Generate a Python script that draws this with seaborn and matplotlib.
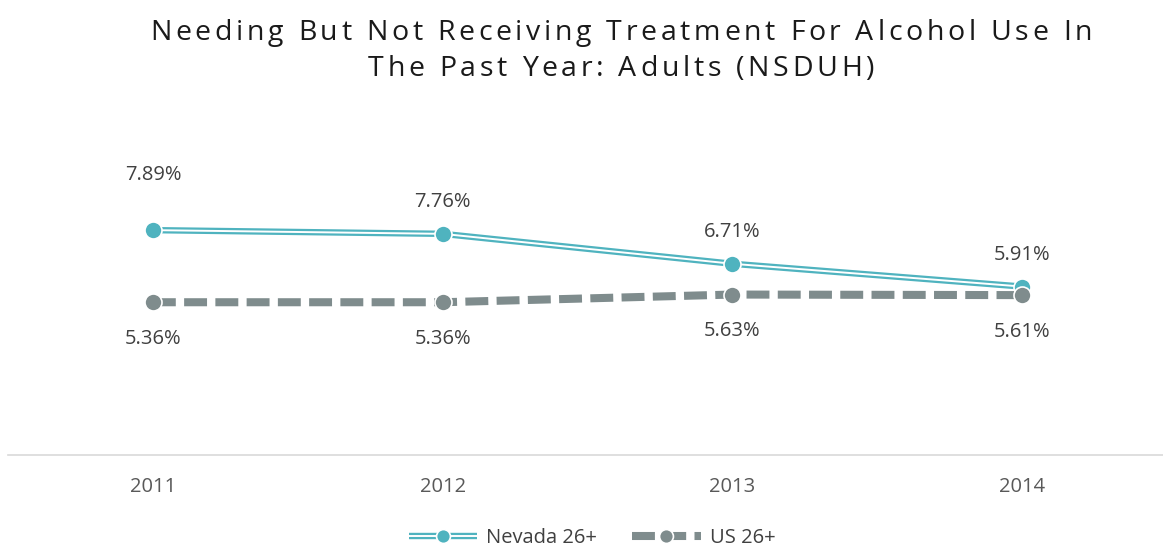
import pandas as pd
import seaborn as sns
import matplotlib.pyplot as plt
from matplotlib.lines import Line2D

years = [2011, 2012, 2013, 2014]
nevada = [7.89, 7.76, 6.71, 5.91]
us = [5.36, 5.36, 5.63, 5.61]
series_names = ["Nevada 26+", "US 26+"]
title_lines = ["Needing But Not Receiving Treatment For Alcohol Use In",
               "The Past Year: Adults (NSDUH)"]

teal = "#4fb3bf"
grey = "#7f8c8d"
txt = "#404040"

sns.set_style("white")
plt.rcParams["font.family"] = ["Open Sans", "DejaVu Sans"]
plt.rcParams["lines.scale_dashes"] = False

df = pd.DataFrame({"year": years, "nevada": nevada, "us": us})

fig = plt.figure(figsize=(11.63, 5.48), dpi=100)
ax = fig.add_axes([8 / 1163, 93 / 548, 1159 / 1163, 285 / 548])

# Nevada: double line (thick teal with thin white core)
sns.lineplot(data=df, x="year", y="nevada", ax=ax, color=teal, lw=4.6,
             solid_capstyle="butt", zorder=2)
sns.lineplot(data=df, x="year", y="nevada", ax=ax, color="white", lw=1.4,
             solid_capstyle="butt", zorder=3)
sns.scatterplot(data=df, x="year", y="nevada", ax=ax, color=teal, s=150,
                edgecolor="white", linewidth=1.2, zorder=4)

# US: dashed grey, drawn on top
sns.lineplot(data=df, x="year", y="us", ax=ax, color=grey, lw=5.8,
             dashes=False, zorder=2)
ax.lines[-1].set_dashes((16.5, 6))
ax.lines[-1].set_dash_capstyle("butt")
sns.scatterplot(data=df, x="year", y="us", ax=ax, color=grey, s=150,
                edgecolor="white", linewidth=1.2, zorder=5)

nv_off = [40, 23, 23, 23]
for x, y, o in zip(years, nevada, nv_off):
    ax.annotate(f"{y:.2f}%", (x, y), xytext=(0, o), textcoords="offset points",
                ha="center", va="center", fontsize=14.5, color=txt)
for x, y in zip(years, us):
    ax.annotate(f"{y:.2f}%", (x, y), xytext=(0, -26.5), textcoords="offset points",
                ha="center", va="center", fontsize=14.5, color=txt)

ax.set_xlim(2010.5, 2014.5)
ax.set_ylim(0, 10)
ax.set_xticks(years)
ax.set_xticklabels([str(y) for y in years])
ax.set_yticks([])
ax.set_xlabel("")
ax.set_ylabel("")
ax.tick_params(axis="x", length=0, pad=16, labelsize=14.5, labelcolor="#595959")
for s in ["top", "left", "right"]:
    ax.spines[s].set_visible(False)
ax.spines["bottom"].set_color("#d9d9d9")
ax.spines["bottom"].set_linewidth(1.2)

# legend
nv_handle = (Line2D([], [], color=teal, lw=4.6, solid_capstyle="butt"),
             Line2D([], [], color="white", lw=1.4, solid_capstyle="butt"),
             Line2D([], [], color=teal, marker="o", markersize=10, lw=0,
                    markeredgecolor="white", markeredgewidth=1.2))
us_line = Line2D([], [], color=grey, lw=5.8, dash_capstyle="butt")
us_line.set_dashes((16.5, 6))
us_handle = (us_line,
             Line2D([], [], color=grey, marker="o", markersize=10, lw=0,
                    markeredgecolor="white", markeredgewidth=1.2))
fig.legend([nv_handle, us_handle], series_names, loc="center",
           bbox_to_anchor=(0.509, 1 - 538 / 548), ncol=2, frameon=False,
           fontsize=14.5, labelcolor=txt, handlelength=3.4, columnspacing=1.75,
           handletextpad=0.45)

# title with letter spacing, char by char
renderer = fig.canvas.get_renderer()
title_size = 20.5
track = None
for line, base_y, target in [(title_lines[0], 40, 942), (title_lines[1], 76, None)]:
    widths = []
    for ch in line:
        t = fig.text(0, 0, ch if ch != " " else "n", fontsize=title_size)
        w = t.get_window_extent(renderer).width
        if ch == " ":
            t2 = fig.text(0, 0, "n n", fontsize=title_size)
            w = t2.get_window_extent(renderer).width - 2 * w
            t2.remove()
        widths.append(w)
        t.remove()
    if track is None:
        track = (target - sum(widths)) / (len(line) - 1)
    total = sum(widths) + track * (len(line) - 1)
    x = 621 - total / 2
    for ch, w in zip(line, widths):
        fig.text(x / 1163, 1 - base_y / 548, ch, fontsize=title_size,
                 color="#1a1a1a", va="baseline", ha="left")
        x += w + track

fig.savefig("out.png", dpi=100)
